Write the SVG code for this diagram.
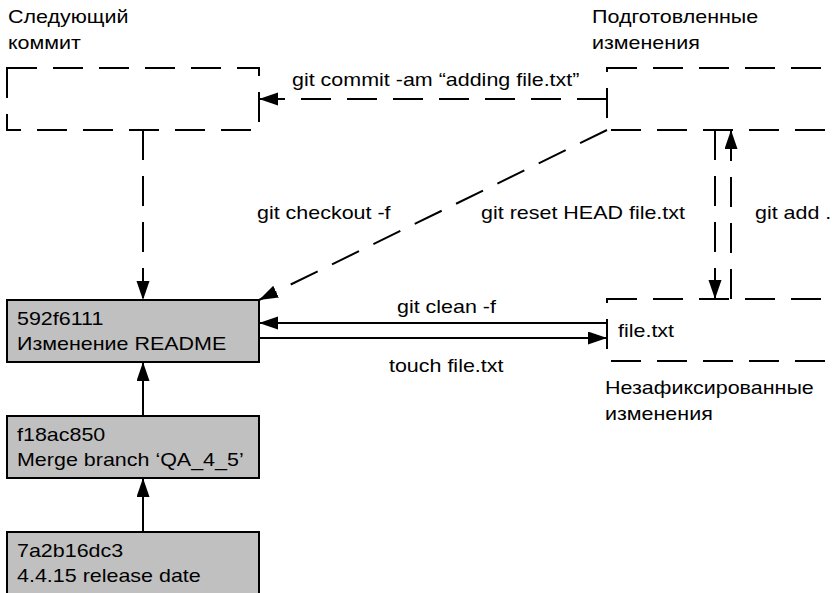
<svg xmlns="http://www.w3.org/2000/svg" width="835" height="593" viewBox="0 0 835 593">
<style>
  text { font-family: "Liberation Sans", Arial, sans-serif; font-size: 19px; fill: #000; }
  .dash { fill: none; stroke: #000; stroke-width: 2; stroke-dasharray: 30 16; }
  .solid { fill: none; stroke: #000; stroke-width: 2; }
  .commit { fill: #c0c0c0; stroke: #000; stroke-width: 2; }
</style>
<defs>
  <marker id="ah" markerUnits="userSpaceOnUse" markerWidth="20" markerHeight="14" refX="19" refY="6.5" orient="auto">
    <path d="M0,0 L19,6.5 L0,13 z" fill="#000"/>
  </marker>
</defs>
<rect width="835" height="593" fill="#fff"/>

<g id="next-commit">
  <rect class="dash" x="7" y="68" width="252" height="62"/>
</g>
<g id="staged">
  <rect class="dash" x="607" y="68" width="262" height="62"/>
</g>
<g id="untracked">
  <rect class="dash" x="607" y="299" width="262" height="62"/>
</g>
<g id="commit-592f6111">
  <rect class="commit" x="7" y="300" width="252" height="62"/>
</g>
<g id="commit-f18ac850">
  <rect class="commit" x="7" y="416" width="252" height="62"/>
</g>
<g id="commit-7a2b16dc3">
  <rect class="commit" x="7" y="532" width="252" height="70"/>
</g>

<g id="connectors">
  <line class="dash" x1="143" y1="130" x2="143" y2="300" marker-end="url(#ah)"/>
  <line class="dash" x1="607" y1="99" x2="259" y2="99" marker-end="url(#ah)"/>
  <line class="dash" x1="607" y1="130" x2="259" y2="300" marker-end="url(#ah)"/>
  <line class="dash" x1="715" y1="130" x2="715" y2="299" marker-end="url(#ah)"/>
  <line class="dash" x1="731" y1="299" x2="731" y2="130" marker-end="url(#ah)"/>
  <line class="solid" x1="607" y1="323" x2="259" y2="323" marker-end="url(#ah)"/>
  <line class="solid" x1="259" y1="338" x2="607" y2="338" marker-end="url(#ah)"/>
  <line class="solid" x1="143" y1="416" x2="143" y2="362" marker-end="url(#ah)"/>
  <line class="solid" x1="143" y1="532" x2="143" y2="478" marker-end="url(#ah)"/>
</g>

<g id="labels" transform="scale(1.13 1)">
  <text x="7.08" y="23">Следующий</text>
  <text x="7.08" y="49">коммит</text>
  <text x="523.9" y="23">Подготовленные</text>
  <text x="523.9" y="49">изменения</text>
  <text x="258.4" y="86">git commit -am “adding file.txt”</text>
  <text x="227.4" y="219">git checkout -f</text>
  <text x="425.7" y="219">git reset HEAD file.txt</text>
  <text x="668.1" y="219">git add .</text>
  <text x="351.3" y="313">git clean -f</text>
  <text x="344.2" y="372">touch file.txt</text>
  <text x="546.9" y="337">file.txt</text>
  <text x="535.4" y="394">Незафиксированные</text>
  <text x="535.4" y="420">изменения</text>
  <text x="15.04" y="325">592f6111</text>
  <text x="15.04" y="350">Изменение README</text>
  <text x="15.04" y="441">f18ac850</text>
  <text x="15.04" y="466">Merge branch ‘QA_4_5’</text>
  <text x="15.04" y="557">7a2b16dc3</text>
  <text x="15.04" y="582">4.4.15 release date</text>
</g>
</svg>
